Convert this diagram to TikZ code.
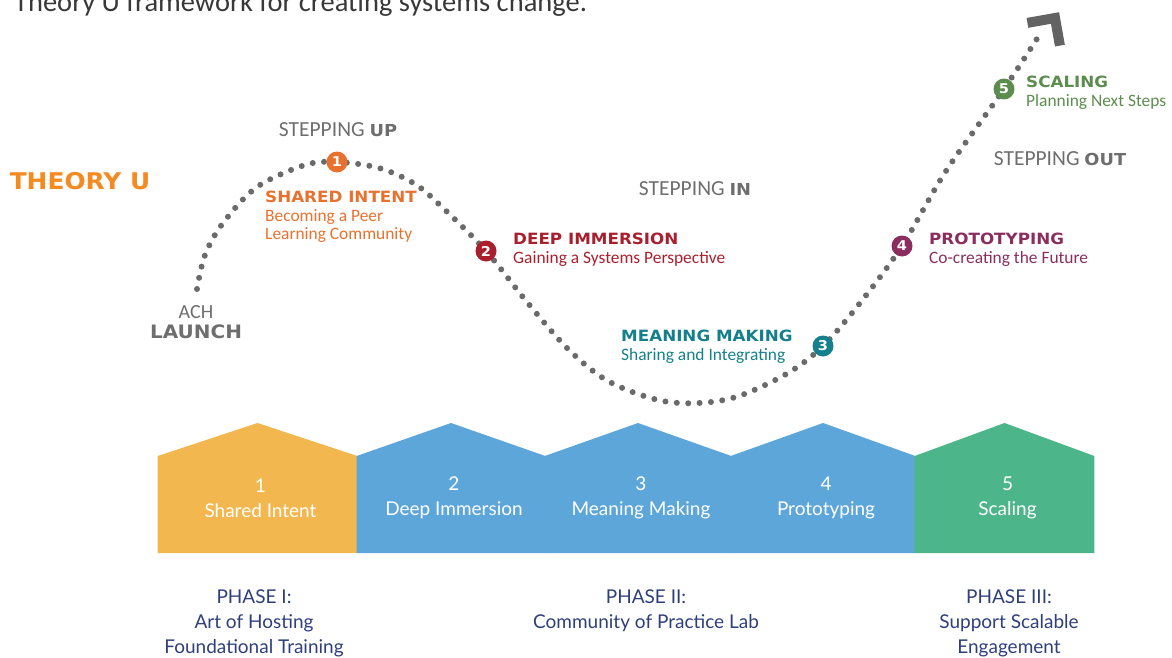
\documentclass[tikz,border=0pt]{standalone}
\usepackage{fontspec}
\setmainfont{Carlito}
\newfontfamily\headfont{DejaVu Sans}[FakeStretch=1.08]
\newfontfamily\housefont{Lato}
\usetikzlibrary{positioning}

\definecolor{orangeU}{HTML}{F58A20}
\definecolor{dotgray}{HTML}{6A6A6A}
\definecolor{stepgray}{HTML}{6E6E6E}
\definecolor{sharedC}{HTML}{E8712D}
\definecolor{deepC}{HTML}{A91F2D}
\definecolor{meanC}{HTML}{14808B}
\definecolor{protoC}{HTML}{8B2E5F}
\definecolor{scaleC}{HTML}{5C8D4F}
\definecolor{hOrange}{HTML}{F2B74F}
\definecolor{hBlue}{HTML}{5DA6DA}
\definecolor{hGreen}{HTML}{4DB58A}
\definecolor{phaseC}{HTML}{2E3F7C}

\newcommand{\hd}{\headfont\bfseries\fontsize{15.5}{18.5}\selectfont}
\newcommand{\stepbold}{\headfont\bfseries\fontsize{16.5}{16.5}\selectfont}

\begin{document}
\begin{tikzpicture}[x=1pt, y=-1pt,
    dots/.style={draw=dotgray, line width=6pt, line cap=round, dash pattern=on 0pt off 11.4pt},
    chev/.style={draw=stepgray!90!black, line width=10pt, line join=miter},
    badge/.style={circle, fill=#1, text=white, inner sep=0pt, minimum size=21pt,
        font=\headfont\bfseries\fontsize{13.5}{13.5}\selectfont},
    lbl/.style={anchor=north west, align=left, inner sep=0pt, text=#1,
        font=\fontsize{17.4}{18.5}\selectfont},
    stepping/.style={text=stepgray, inner sep=0pt, font=\fontsize{21.5}{21.5}\selectfont},
    house/.style={text=white, align=center, font=\housefont\fontsize{19}{25}\selectfont},
    phase/.style={text=phaseC, align=center, anchor=north, inner sep=0pt,
        font=\housefont\fontsize{19}{25}\selectfont}]
\useasboundingbox (0,0) rectangle (1172,658);

% title, cut at the top
\node[anchor=base west, inner sep=0pt, text=black!78, font=\fontsize{28.5}{28.5}\selectfont]
    (title) at (14,12) {Theory U framework for creating systems change.};
\node[text=orangeU, font=\headfont\bfseries\fontsize{23}{23}\selectfont] (theoryu) at (80,181) {THEORY U};

% the U curve
\coordinate (start) at (197,289);
\coordinate (tip) at (1055,18);
\draw[dots] plot[smooth, tension=0.55] coordinates {(start) (205,255) (223,223) (257,187)
    (305,165) (337,162) (379,168) (415,184) (443,208) (486,251) (527,302) (568,349)
    (608,381) (658,400) (699,403) (739,396) (788,373) (823,346) (860,303) (902,246)
    (946,171) (1004,89) (1040,34)};
\draw[chev] (tip) ++(-27.6,4.9) -- (tip) -- ++(4.9,27.6);

% stages on the curve
\node[badge=sharedC] (b1) at (337,162) {1};
\node[badge=deepC] (b2) at (486,251) {2};
\node[badge=meanC] (b3) at (823,346) {3};
\node[badge=protoC] (b4) at (902,246) {4};
\node[badge=scaleC] (b5) at (1004,89) {5};

\node[lbl=sharedC] (shared) at (265,191) {{\hd SHARED INTENT}\\Becoming a Peer\\Learning Community};
\node[lbl=deepC] (deep) at (513,233) {{\hd DEEP IMMERSION}\\Gaining a Systems Perspective};
\node[lbl=meanC] (mean) at (621,330) {{\hd MEANING MAKING}\\Sharing and Integrating};
\node[lbl=protoC] (proto) at (929,233) {{\hd PROTOTYPING}\\Co-creating the Future};
\node[lbl=scaleC] (scale) at (1026,76) {{\hd SCALING}\\Planning Next Steps};

\node[stepping] (stepup) at (338,130) {STEPPING {\stepbold UP}};
\node[stepping] (stepin) at (695,189) {STEPPING {\stepbold IN}};
\node[stepping] (stepout) at (1060,159) {STEPPING {\stepbold OUT}};

\node[stepping, font=\fontsize{20}{20}\selectfont] (ach) at (196,312) {ACH};
\node[stepping, below=6pt of ach, font=\headfont\bfseries\fontsize{18.5}{18.5}\selectfont] (launch) {LAUNCH};

% houses
\foreach \xa/\xb/\c/\n/\t in {158/357/hOrange/1/Shared Intent, 357/545/hBlue/2/Deep Immersion,
    545/731/hBlue/3/Meaning Making, 731/915/hBlue/4/Prototyping, 915/1094/hGreen/5/Scaling}{
    \fill[\c] (\xa-0.3,553) -- (\xa-0.3,456) -- ({(\xa+\xb)/2},423) -- (\xb+0.3,456) -- (\xb+0.3,553) -- cycle;
    \node[house] (h\n) at ({(\xa+\xb)/2+3},498) {\n\\\t};
}

% phases
\node[phase] (p1) at (254,590) {PHASE I:\\Art of Hosting\\Foundational Training};
\node[phase] (p2) at (646,590) {PHASE II:\\Community of Practice Lab};
\node[phase] (p3) at (1009,590) {PHASE III:\\Support Scalable\\Engagement};
\end{tikzpicture}
\end{document}
